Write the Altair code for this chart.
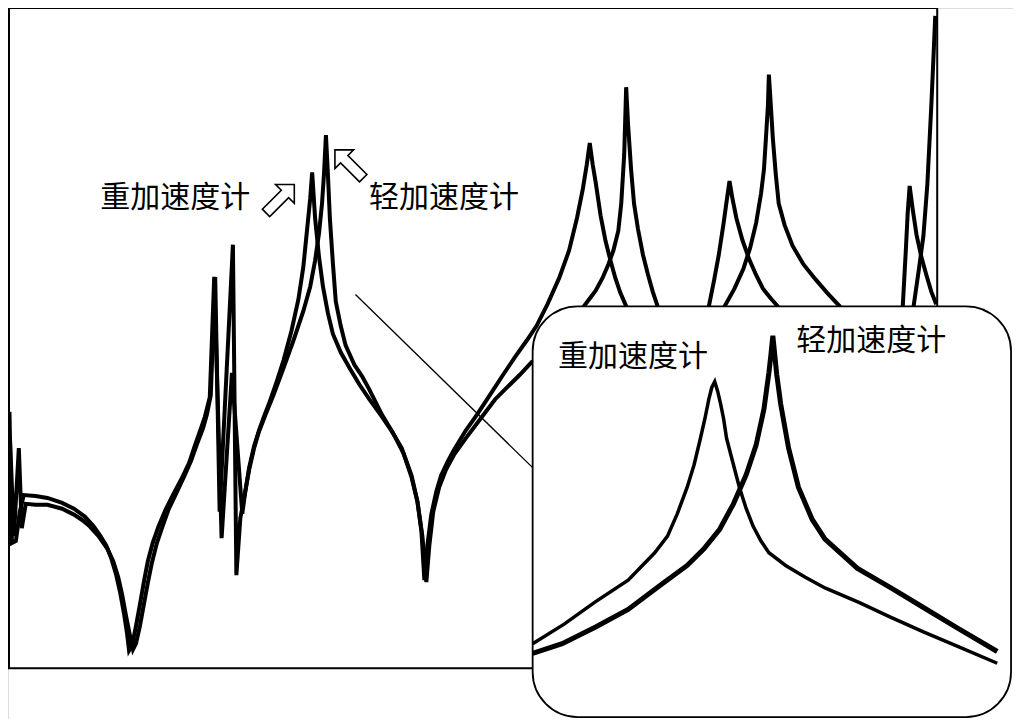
import altair as alt
import pandas as pd

# ---- main frequency-response curves (reference pixel coordinates, y downward) ----
HEAVY_X = [1.5, 4, 8, 12, 16, 28, 40, 55, 67, 78, 87, 94, 100, 105, 110, 114, 118, 121, 123, 126,
           130, 134, 138, 142, 147, 153, 160, 168, 177, 184, 190, 196, 200, 205, 209.5, 217, 227.5,
           238, 241, 245, 250, 255, 260, 265, 272, 280, 288, 295, 300, 304, 307, 309, 312, 316, 320,
           325, 330, 338, 347, 357, 367, 380, 390, 400, 410, 416, 420, 423, 426, 430, 435, 440, 447,
           453, 465, 477, 490, 503, 515, 527, 537, 548, 560, 570, 578, 584, 588, 591, 594, 597, 602,
           607, 612, 617, 622, 628, 640, 655, 670, 690, 705, 712, 717, 722, 727, 730, 733, 736, 740,
           746, 753, 760, 767, 775, 782, 800, 840, 880, 900, 909, 912, 914, 916, 919, 923, 928, 933,
           938, 943]
HEAVY_Y = [413, 547, 545, 515, 498, 499, 501, 506, 512, 520, 530, 540, 550, 563, 580, 598, 620, 640, 657, 652,
           632, 610, 587, 566, 547, 530, 513, 497, 480, 465, 447, 430, 418, 398, 275, 542, 373,
           517, 495, 470, 448, 432, 418, 405, 385, 360, 330, 298, 265, 225, 195, 168, 215, 255, 285,
           312, 333, 352, 368, 385, 400, 418, 433, 450, 478, 505, 535, 585, 550, 518, 495, 478, 463,
           452, 432, 415, 395, 375, 357, 340, 325, 303, 276, 248, 215, 185, 160, 138, 160, 178, 212,
           238, 258, 276, 291, 305, 345, 390, 410, 360, 320, 305, 280, 253, 220, 198, 177, 195, 215,
           237, 257, 273, 287, 297, 305, 345, 420, 370, 330, 305, 250, 210, 182, 205, 232, 255, 273,
           290, 303]

LIGHT_X = [2, 6, 11, 14, 18, 28, 40, 55, 67, 76, 83, 92, 101, 107, 112, 116, 120, 124, 127, 130,
           134, 138, 142, 146, 151, 157, 163, 171, 179, 186, 192, 198, 202, 206, 210.5, 215, 228.5,
           232, 236, 240, 245, 250, 255, 262, 270, 280, 290, 300, 307, 312, 316, 319, 321, 323, 325,
           327, 330, 333, 338, 343, 352, 360, 367, 380, 392, 402, 410, 416, 421, 425, 428, 432, 438,
           445, 453, 465, 480, 495, 510, 520, 532, 560, 580, 585, 591, 597, 604, 610, 615, 620, 623,
           626, 628, 630, 633, 636, 640, 645, 650, 655, 660, 680, 705, 728, 738, 747, 754, 760, 765,
           768, 770, 772, 773, 775, 777, 780, 783, 789, 797, 808, 820, 832, 845, 870, 905, 920, 925,
           930, 934, 938, 940, 942]
LIGHT_Y = [440, 540, 450, 532, 507, 508, 508, 512, 518, 524, 530, 540, 553, 566, 582, 600, 622, 642, 656, 650,
           632, 610, 588, 568, 548, 530, 513, 496, 479, 463, 446, 430, 416, 396, 275, 515, 242,
           580, 522, 500, 472, 450, 433, 415, 395, 368, 340, 310, 285, 258, 230, 200, 170, 130, 170,
           215, 260, 300, 325, 345, 365, 377, 390, 416, 436, 456, 480, 505, 540, 587, 550, 515, 490,
           472, 457, 440, 420, 400, 385, 375, 362, 345, 315, 305, 297, 289, 276, 262, 248, 228, 200,
           150, 81, 120, 165, 200, 226, 252, 272, 290, 305, 380, 360, 305, 287, 267, 245, 220, 190,
           165, 133, 100, 68, 100, 133, 170, 200, 222, 243, 262, 277, 291, 305, 380, 350, 305, 270,
           233, 180, 100, 55, 8]

# ---- zoomed inset curves ----
INSET_HEAVY_X = [533, 565, 597, 630, 657, 670, 680, 690, 697, 703, 708, 712, 715, 718, 721, 724, 727,
                 730, 737, 743, 750, 757, 765, 773, 790, 810, 830, 865, 897, 930, 963, 1005]
INSET_HEAVY_Y = [650, 630, 607, 585, 557, 540, 517, 490, 467, 442, 420, 400, 388, 382, 392, 405, 420,
                 440, 467, 490, 512, 530, 545, 557, 570, 582, 593, 608, 623, 638, 652, 670]
INSET_LIGHT_X = [533, 563, 597, 630, 663, 690, 707, 723, 737, 750, 760, 768, 773, 775, 777, 779, 781,
                 785, 793, 803, 817, 830, 863, 897, 930, 963, 1005]
INSET_LIGHT_Y = [660, 650, 633, 615, 590, 570, 553, 533, 507, 477, 447, 410, 373, 355, 335, 355, 375,
                 405, 450, 490, 523, 543, 573, 593, 613, 633, 658]

# ---- annotations ----
LABELS = ["重加速度计", "轻加速度计", "重加速度计", "轻加速度计"]
LABEL_X = [170, 443, 635, 877]
LABEL_Y = [194, 194, 357, 340]
ARROW_X = [276.5, 346.5]
ARROW_Y = [195, 159.5]
ARROW_ANGLE = [45, 315]
FRAME = {"x": [1], "x2": [944], "y": [0], "y2": [675]}
INSET_BOX = {"x": [533], "x2": [1019], "y": [305], "y2": [725]}
CONNECTOR = {"x": [353], "y": [293], "x2": [533], "y2": [470]}

W, H = 1005, 711
XS = alt.Scale(domain=[0, 1021], nice=False, zero=False)
YS = alt.Scale(domain=[0, 727], nice=False, zero=False, reverse=True)


def curve(xv, yv, width):
    df = pd.DataFrame({"x": xv, "y": yv, "i": list(range(len(xv)))})
    return alt.Chart(df).mark_line(color="black", strokeWidth=width, strokeJoin="miter").encode(
        x=alt.X("x:Q", scale=XS, axis=None),
        y=alt.Y("y:Q", scale=YS, axis=None),
        order="i:Q",
    )


def box(d, **kw):
    return alt.Chart(pd.DataFrame(d)).mark_rect(**kw).encode(
        x=alt.X("x:Q", scale=XS, axis=None), x2="x2:Q",
        y=alt.Y("y:Q", scale=YS, axis=None), y2="y2:Q",
    )


frame = box(FRAME, fill="white", fillOpacity=0, stroke="black", strokeWidth=2)
main_heavy = curve(HEAVY_X, HEAVY_Y, 4)
main_light = curve(LIGHT_X, LIGHT_Y, 4)

connector = alt.Chart(pd.DataFrame(CONNECTOR)).mark_rule(color="black", strokeWidth=1.3).encode(
    x=alt.X("x:Q", scale=XS, axis=None), y=alt.Y("y:Q", scale=YS, axis=None),
    x2="x2:Q", y2="y2:Q",
)

inset = box(INSET_BOX, fill="white", stroke="black", strokeWidth=1.8, cornerRadius=45)
inset_heavy = curve(INSET_HEAVY_X, INSET_HEAVY_Y, 3.5)
inset_light = curve(INSET_LIGHT_X, INSET_LIGHT_Y, 5)

labels = alt.Chart(pd.DataFrame({"t": LABELS, "x": LABEL_X, "y": LABEL_Y})).mark_text(
    font="Noto Sans CJK SC", fontSize=30, color="black", align="center", baseline="middle"
).encode(
    x=alt.X("x:Q", scale=XS, axis=None), y=alt.Y("y:Q", scale=YS, axis=None), text="t:N"
)

ARROW_PATH = "M0,-1L0.66,-0.34L0.26,-0.34L0.26,1L-0.26,1L-0.26,-0.34L-0.66,-0.34Z"
arrows = alt.Chart(pd.DataFrame({"x": ARROW_X, "y": ARROW_Y, "a": ARROW_ANGLE})).mark_point(
    shape=ARROW_PATH, filled=False, color="black", strokeWidth=1.6, opacity=1, size=1600
).encode(
    x=alt.X("x:Q", scale=XS, axis=None), y=alt.Y("y:Q", scale=YS, axis=None),
    angle=alt.Angle("a:Q", scale=None),
)

chart = alt.layer(
    frame, main_heavy, main_light, connector, inset, inset_heavy, inset_light, labels, arrows
).properties(
    width=W, height=H, padding=0, autosize=alt.AutoSizeParams(type="none")
).configure_view(strokeWidth=0).configure(background="white")

chart.save("out.html", embed_options={"renderer": "svg", "actions": False})
